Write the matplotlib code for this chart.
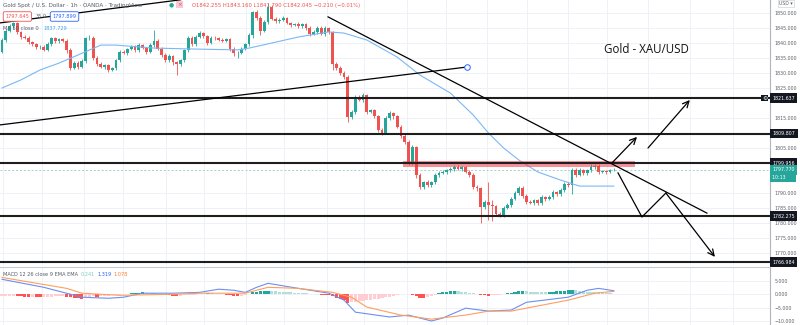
import matplotlib
matplotlib.use("Agg")
import matplotlib.pyplot as plt
import matplotlib.transforms as mtransforms
from matplotlib.ticker import FuncFormatter

# ---- price data (1h candles) ----
first_open = 1837.0
closes = [
    1841.0, 1844.0, 1845.5, 1846.5, 1843.5, 1842.0, 1841.7, 1840.3, 1839.5, 1838.5,
    1838.8, 1837.8, 1839.5, 1841.5, 1840.5, 1841.2, 1840.8, 1837.5, 1831.8, 1833.3,
    1832.0, 1834.0, 1841.5, 1841.8, 1835.0, 1833.0, 1832.0, 1832.5, 1831.0, 1831.5,
    1834.3, 1837.0, 1836.7, 1838.0, 1838.8, 1837.5, 1839.2, 1838.3, 1837.0, 1839.3,
    1840.5, 1838.0, 1836.0, 1834.3, 1835.5, 1833.5, 1833.0, 1834.3, 1837.5, 1841.7,
    1839.5, 1842.0, 1843.3, 1842.2, 1840.0, 1841.8, 1841.5, 1841.0, 1840.8, 1841.2,
    1838.0, 1836.5, 1836.8, 1838.0, 1839.5, 1842.5, 1850.2, 1848.3, 1844.0, 1847.0,
    1852.0, 1848.0, 1847.3, 1847.8, 1848.3, 1846.7, 1846.0, 1846.3, 1845.5, 1846.2,
    1845.0, 1843.0, 1843.5, 1845.0, 1843.0, 1845.0, 1843.5, 1833.0, 1831.8, 1830.0,
    1828.7, 1815.3, 1817.0, 1822.0, 1821.0, 1822.5, 1817.0, 1817.5, 1815.5, 1811.0,
    1810.0, 1815.0, 1816.5, 1815.5, 1812.0, 1809.0, 1807.0, 1800.0, 1805.3, 1796.0,
    1792.0, 1793.5, 1792.5, 1793.5, 1796.0, 1796.7, 1797.0, 1797.5, 1798.0, 1798.7,
    1798.0, 1798.5, 1797.0, 1796.0, 1792.0, 1791.5, 1785.3, 1787.0, 1786.0, 1785.5,
    1783.0, 1782.7, 1785.0, 1786.0, 1788.0, 1790.0, 1791.7, 1789.0, 1787.0, 1786.7,
    1787.5, 1786.5, 1788.5, 1788.0, 1788.7, 1790.3, 1789.5, 1791.0, 1793.0, 1792.5,
    1797.7, 1796.0, 1797.5, 1796.5, 1797.5, 1798.5, 1799.0, 1797.0, 1797.2, 1797.0,
    1797.6, 1797.77,
]
upper_wick = [
    0.8, 0.6, 0.7, 0.5, 0.6, 0.4, 0.5, 0.6, 0.5, 0.4,
    0.5, 0.6, 0.7, 0.5, 0.6, 0.4, 0.5, 0.6, 0.8, 0.7,
    0.6, 0.5, 0.4, 0.7, 0.5, 0.6, 0.5, 0.4, 0.6, 0.5,
    0.5, 0.6, 0.5, 0.4, 0.6, 0.5, 0.7, 0.4, 0.5, 0.6,
    3.8, 0.8, 0.6, 0.5, 0.7, 0.5, 0.6, 0.5, 0.6, 0.7,
    0.6, 0.5, 0.8, 0.5, 0.6, 0.5, 0.4, 0.5, 0.6, 0.5,
    0.6, 0.5, 0.4, 0.6, 0.5, 0.7, 0.6, 0.8, 0.7, 0.6,
    1.3, 0.6, 0.7, 0.5, 0.6, 0.5, 0.4, 0.5, 0.6, 0.5,
    0.6, 0.5, 0.7, 0.5, 0.6, 0.5, 0.4, 0.6, 0.8, 0.5,
    0.6, 0.7, 0.5, 0.8, 0.6, 0.7, 0.5, 0.6, 0.5, 0.6,
    0.5, 0.6, 0.8, 0.5, 0.6, 0.5, 0.7, 0.6, 0.8, 0.5,
    0.6, 0.5, 0.7, 0.5, 0.6, 0.5, 0.6, 0.5, 0.7, 0.6,
    0.5, 0.6, 0.5, 0.6, 0.7, 0.5, 0.6, 0.8, 6.5, 1.5,
    0.6, 0.5, 0.7, 0.6, 0.5, 0.6, 0.7, 0.5, 0.6, 0.5,
    0.6, 0.5, 0.7, 0.6, 0.5, 0.6, 0.5, 0.7, 0.6, 0.5,
    0.6, 0.5, 0.7, 0.5, 0.6, 1.2, 0.7, 0.6, 0.5, 0.6,
    0.5, 0.4,
]
lower_wick = [
    0.5, 0.6, 0.5, 0.7, 0.5, 0.6, 0.4, 0.5, 0.6, 0.5,
    0.6, 0.5, 0.6, 0.4, 0.5, 0.6, 0.5, 0.7, 0.8, 0.6,
    0.7, 0.5, 0.6, 0.5, 0.6, 0.7, 0.5, 0.6, 0.7, 0.5,
    0.6, 0.5, 0.4, 0.6, 0.5, 0.6, 0.5, 0.4, 0.6, 0.5,
    0.6, 0.5, 0.6, 0.7, 0.5, 0.8, 3.7, 0.6, 0.5, 0.6,
    0.5, 0.6, 0.5, 0.4, 0.6, 0.5, 0.6, 0.5, 0.4, 0.5,
    0.6, 0.7, 1.5, 0.6, 0.5, 0.6, 0.7, 0.6, 1.3, 0.5,
    0.6, 0.5, 0.7, 0.5, 0.6, 0.5, 0.6, 0.5, 0.4, 0.5,
    0.6, 0.7, 0.5, 0.6, 0.5, 0.6, 0.5, 2.0, 0.8, 0.7,
    0.8, 1.5, 0.7, 0.6, 0.5, 0.6, 0.7, 0.5, 0.6, 0.7,
    0.6, 0.5, 0.6, 0.7, 0.5, 0.6, 0.7, 0.8, 0.6, 1.0,
    0.7, 0.6, 0.5, 0.6, 0.5, 0.6, 0.5, 0.6, 0.5, 0.6,
    0.5, 0.6, 0.5, 0.7, 0.6, 0.8, 5.3, 0.7, 5.0, 4.8,
    0.6, 0.7, 0.6, 0.5, 0.6, 0.5, 0.6, 0.7, 0.6, 0.5,
    0.6, 0.5, 0.6, 0.7, 0.5, 0.6, 0.5, 0.6, 0.7, 0.6,
    3.0, 0.6, 0.5, 0.6, 0.5, 0.6, 0.5, 0.6, 0.5, 0.6,
    0.5, 0.4,
]

# MA 50 (vertices: bar index, price)
ma_idx = [0, 5, 10, 15, 20, 26, 30, 40, 50, 62, 65, 70, 78, 86, 90, 96, 104,
          110, 118, 124, 128, 132, 136, 141, 147, 152, 161]
ma_val = [1825.0, 1827.7, 1831.0, 1833.3, 1836.0, 1839.3, 1839.3, 1838.3, 1838.0,
          1837.7, 1838.3, 1839.7, 1842.0, 1843.7, 1843.3, 1841.0, 1835.3, 1829.3,
          1823.3, 1816.0, 1810.0, 1805.0, 1801.0, 1797.0, 1794.3, 1792.3, 1792.3]

# MACD 12 26 9
macd_idx = [0, 11, 21, 28, 32, 37, 45, 52, 57, 61, 64, 67, 70, 78, 86, 90, 93,
            102, 107, 113, 116, 122, 128, 134, 138, 149, 154, 157, 161]
macd_val = [5.6, 2.6, -1.1, -1.5, -1.1, 0.4, 0.4, 0.7, 1.9, 1.5, 0.7, 2.6, 4.1,
            2.2, 0.4, -2.2, -6.7, -8.5, -7.8, -10.0, -8.9, -5.2, -6.3, -5.9, -3.0,
            -1.1, 1.5, 2.2, 1.32]
signal_idx = [0, 17, 21, 31, 45, 52, 64, 70, 78, 87, 92, 96, 105, 113, 122, 128,
              134, 142, 149, 156, 161]
signal_val = [6.3, 2.2, 0.4, -0.4, 0.0, 0.4, 0.4, 2.6, 2.2, 0.7, -1.1, -4.8, -7.8,
              -9.3, -7.8, -6.3, -6.3, -4.1, -2.2, 0.4, 1.08]
hist = [
    -0.6, -0.6, -0.5, -0.5, -0.7, -0.8, -0.9, -1.0, -1.0, -1.1,
    -1.2, -1.1, -1.0, -0.9, -0.8, -0.8, -0.7, -0.9, -1.2, -1.4,
    -1.5, -1.6, -1.2, -0.9, -0.8, -0.9, -0.8, -0.7, -0.5, -0.4,
    -0.3, -0.2, 0.1, 0.2, 0.3, 0.5, 0.6, 0.7, 0.6, 0.5,
    0.4, 0.2, 0.0, -0.2, -0.4, -0.5, -0.6, -0.5, -0.4, -0.3,
    -0.2, -0.1, 0.1, 0.2, 0.3, 0.3, 0.2, 0.1, 0.0, -0.2,
    -0.4, -0.6, -0.7, -0.5, -0.3, 0.2, 0.8, 1.0, 1.1, 1.2,
    1.3, 1.2, 1.1, 1.0, 0.9, 0.8, 0.7, 0.6, 0.5, 0.4,
    0.3, 0.2, 0.1, 0.0, -0.1, -0.2, -0.3, -0.8, -1.3, -1.8,
    -2.3, -3.2, -3.0, -2.8, -2.6, -2.5, -2.3, -2.1, -1.9, -1.7,
    -1.5, -1.2, -0.9, -0.6, -0.3, 0.1, 0.2, 0.1, -0.3, -0.8,
    -1.3, -1.5, -1.2, -0.8, -0.3, 0.3, 0.7, 1.0, 1.2, 1.3,
    1.2, 1.0, 0.8, 0.6, 0.4, 0.2, -0.2, -0.4, -0.5, -0.4,
    -0.3, -0.2, 0.1, 0.3, 0.6, 0.9, 1.1, 1.2, 1.1, 1.0,
    0.9, 0.9, 0.8, 0.8, 0.9, 1.0, 1.1, 1.2, 1.3, 1.5,
    1.6, 1.5, 1.3, 1.2, 1.0, 0.9, 0.8, 0.7, 0.6, 0.5,
    0.4, 0.24,
]

# horizontal levels drawn on the chart
levels = [1821.637, 1809.807, 1799.956, 1782.275, 1766.984]
last_price = 1797.770
zone_low, zone_high = 1798.7, 1800.7
zone_x = [105.5, 166.5]

# drawings (bar index, price)
down_trend = ([85.8, 185.5], [1848.7, 1783.3])
up_trend = ([-0.5, 122.4], [1812.7, 1832.0])
top_trend = ([-0.5, 47.0], [1846.7, 1854.4])
arrow_up1 = ((160.5, 1800.0), (167.1, 1808.7))
arrow_up2 = ((170.0, 1805.0), (181.0, 1821.0))
zigzag_x = [162.1, 168.4, 174.7]
zigzag_y = [1796.7, 1782.0, 1790.0]
zigzag_end = (187.6, 1768.7)

grid_x = [0.3, 10.5, 21.6, 31.8, 43.2, 53.2, 64.2, 74.2, 85.5, 95.3, 106.6, 116.8,
          127.6, 138.2, 148.9, 159.2, 170.0, 181.1, 192.4]
price_ticks = [1770, 1775, 1780, 1785, 1790, 1805, 1815, 1825, 1830, 1835, 1840,
               1845, 1850]
macd_ticks = [5, 0, -5, -10]

UP, DOWN = "#26a69a", "#ef5350"
GRID = "#eef1f5"
AXC = "#5d606b"
FS = 3.4

fig = plt.figure(figsize=(8, 3.25), dpi=100)
ax = fig.add_axes([0, 1 - 265 / 325, 770 / 800, 265 / 325])
mx = fig.add_axes([0, 0, 770 / 800, 1 - 267 / 325])

opens = [first_open] + closes[:-1]
n = len(closes)
xs = list(range(n))

for a in (ax, mx):
    a.set_xlim(-0.53, 202.1)
    for s in ("top", "left", "bottom"):
        a.spines[s].set_visible(False)
    a.spines["right"].set_color("#b2b5be")
    a.spines["right"].set_linewidth(0.8)
    a.set_xticks(grid_x)
    a.tick_params(axis="x", length=0, labelbottom=False)
    a.yaxis.tick_right()
    a.tick_params(axis="y", length=0, pad=3.2, labelsize=FS, labelcolor=AXC)
    a.grid(True, color=GRID, lw=0.7)
    a.set_axisbelow(True)
mx.spines["top"].set_visible(True)
mx.spines["top"].set_color("#c8cbd2")

ax.set_ylim(1766.0, 1854.33)
ax.set_yticks(price_ticks)
ax.yaxis.set_major_formatter(FuncFormatter(lambda v, p: f"{v:.3f}"))

# candles
for i in xs:
    o, c = opens[i], closes[i]
    col = UP if c >= o else DOWN
    hi = max(o, c) + upper_wick[i]
    lo = min(o, c) - lower_wick[i]
    ax.vlines(i, lo, hi, color=col, lw=0.6, zorder=3)
    ax.bar(i, max(abs(c - o), 0.2), bottom=min(o, c), width=0.7, color=col,
           lw=0, zorder=4)

ax.plot(ma_idx, ma_val, color="#7ab8f5", lw=0.8, zorder=5)

# levels and zone
for lv in levels:
    ax.axhline(lv, color="#1e1e1e", lw=1.5, zorder=6)
ax.axhline(last_price, color="#9fd3cd", lw=0.7, ls=(0, (2, 2)), zorder=2)
ax.fill_between(zone_x, zone_low, zone_high, color="#f23645", alpha=0.55,
                lw=0, zorder=5)

# trend lines
ax.plot(*down_trend, color="black", lw=0.9, zorder=7)
ax.plot(*up_trend, color="black", lw=0.9, zorder=7)
ax.plot(*top_trend, color="black", lw=0.9, zorder=7)
ax.plot(up_trend[0][1], up_trend[1][1], marker="o", ms=4, mfc="white",
        mec="#2962ff", mew=0.7, zorder=8)

arrow_kw = dict(arrowstyle="->,head_length=0.45,head_width=0.22", lw=0.9,
                color="black", shrinkA=0, shrinkB=0)
for start, end in (arrow_up1, arrow_up2):
    ax.annotate("", xy=end, xytext=start, arrowprops=arrow_kw, zorder=8)
ax.plot(zigzag_x, zigzag_y, color="black", lw=0.9, zorder=8)
ax.annotate("", xy=zigzag_end, xytext=(zigzag_x[-1], zigzag_y[-1]),
            arrowprops=arrow_kw, zorder=8)

ax.text(0.839, 0.815, "Gold - XAU/USD", transform=ax.transAxes, fontsize=8.3,
        family="Open Sans", ha="center", va="center", color="#111111")

# right-axis price labels
lab_tr = mtransforms.blended_transform_factory(fig.transFigure, ax.transData)
box = dict(boxstyle="square,pad=0.5", ec="none")
for lv in levels:
    ax.text(772.5 / 800, lv, f"{lv:.3f}", transform=lab_tr, fontsize=FS,
            color="white", va="center", ha="left", clip_on=False, zorder=10,
            bbox=dict(box, fc="#131722"))
ax.text(772.5 / 800, last_price, f"{last_price:.3f}", transform=lab_tr,
        fontsize=FS, color="white", va="center", ha="left", clip_on=False,
        zorder=10, bbox=dict(box, fc=UP))
ax.text(772.5 / 800, last_price - 2.5, "10:13     ", transform=lab_tr,
        fontsize=FS, color="white", va="center", ha="left", clip_on=False,
        zorder=10, bbox=dict(box, fc=UP))

# MACD pane
mx.set_ylim(-11.5, 10.2)
mx.set_yticks(macd_ticks)
mx.yaxis.set_major_formatter(
    FuncFormatter(lambda v, p: f"{v:.3f}".replace("-", "\u2212")))
cols = []
for i, h in enumerate(hist):
    prev = hist[i - 1] if i > 0 else h
    if h >= 0:
        cols.append("#26a69a" if h > prev else "#b2dfdb")
    else:
        cols.append("#ff5252" if h < prev else "#ffcdd2")
mx.bar(xs, hist, width=0.8, color=cols, lw=0, zorder=3)
mx.plot(macd_idx, macd_val, color="#6b8ff2", lw=0.8, zorder=4)
mx.plot(signal_idx, signal_val, color="#ff9e5e", lw=0.8, zorder=4)


def ftext(x, y, s, **kw):
    fig.text(x / 800, 1 - y / 325, s, va="center", ha="left", **kw)


# top legend
ftext(3, 5, "Gold Spot / U.S. Dollar \u00b7 1h \u00b7 OANDA \u00b7 TradingView",
      fontsize=4.1, color="#555b66")
ftext(168.5, 4.5, "\u25cf", fontsize=4.2, color=UP)
ftext(177.5, 4.5, "\u00d7", fontsize=4.0, color="#d44a6a",
      bbox=dict(boxstyle="square,pad=0.2", fc="#f8c8d4", ec="none"))
ftext(192, 5, "O1842.255 H1843.160 L1841.790 C1842.045 \u22120.210 (\u22120.01%)",
      fontsize=3.8, color="#ef5350")
ftext(5.5, 16.5, "1797.645", fontsize=3.6, color="#ef5350",
      bbox=dict(boxstyle="round,pad=0.45,rounding_size=0.3", fc="white",
                ec="#ef5350", lw=0.6))
ftext(36, 16.5, "35.0", fontsize=3.6, color="#555b66")
ftext(52.5, 16.5, "1797.899", fontsize=3.6, color="#2962ff",
      bbox=dict(boxstyle="round,pad=0.45,rounding_size=0.3", fc="white",
                ec="#2962ff", lw=0.6))
ftext(3, 29, "MA 50 close 0", fontsize=3.7, color="#555b66")
ftext(43, 29, "1837.729", fontsize=3.6, color="#42a5f5")

ftext(3, 274, "MACD 12 26 close 9 EMA EMA", fontsize=3.6, color="#555b66")
ftext(81, 274, "0.241", fontsize=3.6, color="#80cbc4")
ftext(98, 274, "1.319", fontsize=3.6, color="#2962ff")
ftext(114, 274, "1.078", fontsize=3.6, color="#ff7f2a")

ftext(779, 3.5, "USD \u25be", fontsize=3.3, color=AXC,
      bbox=dict(boxstyle="square,pad=0.3", fc="white", ec="#d1d4dc", lw=0.5))
ftext(762, 98, "\u2699", fontsize=4.3, color="white",
      bbox=dict(boxstyle="square,pad=0.15", fc="#131722", ec="none"))

fig.savefig("out.png", dpi=100)
